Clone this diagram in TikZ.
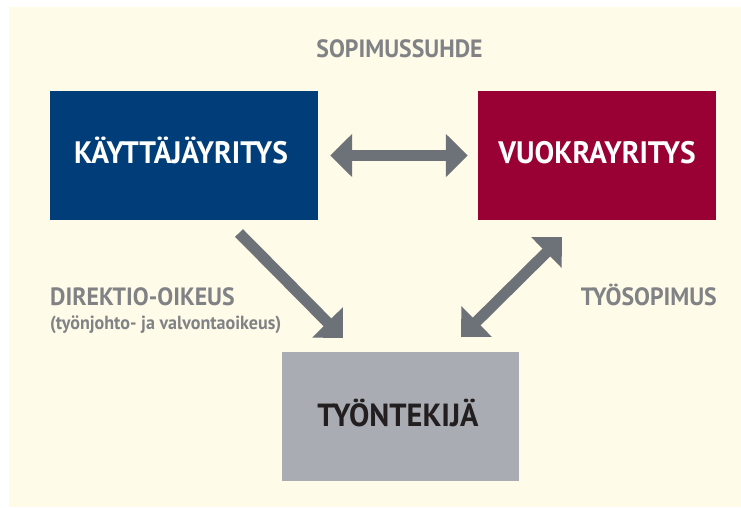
\documentclass[tikz,border=0pt]{standalone}
\usepackage{fontspec}
\setmainfont{PT Sans}[FakeStretch=0.95]
\usetikzlibrary{arrows.meta}
\definecolor{cream}{RGB}{254,251,232}
\definecolor{kayblue}{RGB}{0,61,121}
\definecolor{vuored}{RGB}{153,0,51}
\definecolor{tyogray}{RGB}{169,173,179}
\definecolor{arrowgray}{RGB}{109,114,120}
\definecolor{labelgray}{RGB}{128,130,133}
\definecolor{darktext}{RGB}{35,31,32}
\tikzset{x=1pt, y=-1pt,
  every node/.style={inner sep=0pt, font=\bfseries},
  box/.style={minimum height=129pt, text=white, font=\bfseries\fontsize{31}{31}\selectfont},
  label/.style={text=labelgray, font=\bfseries\fontsize{25}{25}\selectfont},
  bigarrow/.style={draw=arrowgray, line width=11pt, -{Triangle[length=22pt,width=42pt]}},
  twoarrow/.style={draw=arrowgray, line width=11pt, {Triangle[length=22pt,width=42pt]}-{Triangle[length=22pt,width=42pt]}}}

\begin{document}
\begin{tikzpicture}
  \useasboundingbox (0,0) rectangle (741,507);
  \fill[white] (0,0) rectangle (741,507);
  \fill[cream] (9,7) rectangle (741,507);
  \node[box, fill=kayblue, minimum width=268pt] (kay) at (184,155.5) {};
  \node[box, fill=vuored, minimum width=238pt] (vuo) at (597,155.5) {};
  \node[box, fill=tyogray, minimum width=237pt] (tyo) at (400.5,416.5) {};
  \node[box, anchor=base] (kaytext) at (181,163) {KÄYTTÄJÄYRITYS};
  \node[box, anchor=base] (vuotext) at (597,163) {VUOKRAYRITYS};
  \node[box, anchor=base, text=darktext, font=\bfseries\fontsize{32}{32}\selectfont] (tyotext) at (398,426) {TYÖNTEKIJÄ};
  \node[label, anchor=base] (sop) at (399.5,57) {SOPIMUSSUHDE};
  \node[label, anchor=base west] (dir) at (50,305) {DIREKTIO-OIKEUS};
  \node[label, anchor=base west, font=\bfseries\fontsize{19}{19}\selectfont] (dirsub) at (50,329) {(työnjohto- ja valvontaoikeus)};
  \node[label, anchor=base east] (tsop) at (717,305) {TYÖSOPIMUS};
  \coordinate (dirA) at (239,233);
  \coordinate (dirB) at (343,338);
  \coordinate (tsA) at (562,237);
  \coordinate (tsB) at (461,337);
  \draw[twoarrow, shorten <=12pt, shorten >=10pt] (kay.east) -- (vuo.west);
  \draw[bigarrow] (dirA) -- (dirB);
  \draw[twoarrow] (tsA) -- (tsB);
\end{tikzpicture}
\end{document}
